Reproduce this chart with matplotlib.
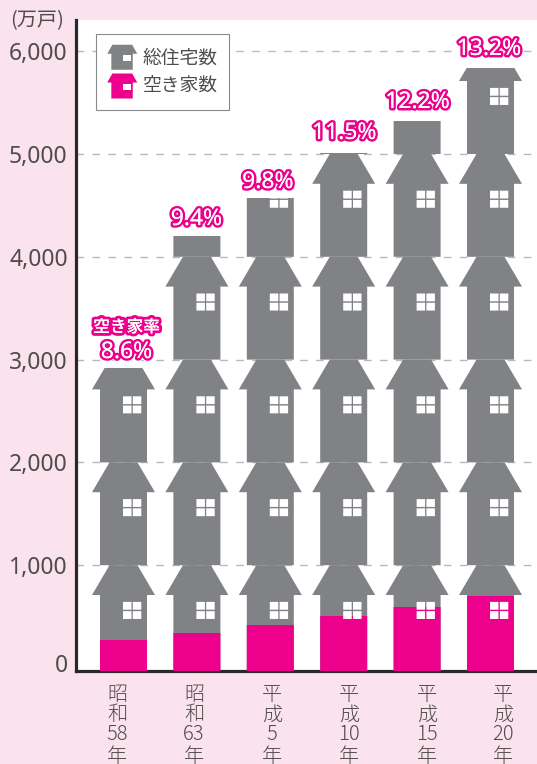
import matplotlib
matplotlib.use("Agg")
import matplotlib.pyplot as plt
import matplotlib.patheffects as pe
from matplotlib.patches import Polygon, Rectangle
from matplotlib.legend_handler import HandlerBase
from matplotlib.transforms import ScaledTranslation

# ---- data ----
years = ["昭和58年", "昭和63年", "平成5年", "平成10年", "平成15年", "平成20年"]
year_lines = [["昭", "和", "58", "年"], ["昭", "和", "63", "年"], ["平", "成", "5", "年"],
              ["平", "成", "10", "年"], ["平", "成", "15", "年"], ["平", "成", "20", "年"]]
total_houses = [2918, 4202, 4572, 5010, 5321, 5837]
vacant_houses = [272, 340, 418, 506, 593, 700]
vacancy_rate = ["8.6%", "9.4%", "9.8%", "11.5%", "12.2%", "13.2%"]
y_ticks = [0, 1000, 2000, 3000, 4000, 5000, 6000]
y_labels = ["0", "1,000", "2,000", "3,000", "4,000", "5,000", "6,000"]
series_names = ["総住宅数", "空き家数"]

# ---- style ----
GRAY = "#808285"
PINK = "#ec008c"
BG = "#fbe3ee"
TEXT = "#504b4c"
CJK = ["Noto Sans CJK JP", "DejaVu Sans"]
W, H = 537, 764
plt.rcParams["font.family"] = CJK

fig = plt.figure(figsize=(W / 100, H / 100), dpi=100, facecolor=BG)
L, R, T, B = 76, 537, 20, 671
ax = fig.add_axes([L / W, 1 - B / H, (R - L) / W, (B - T) / H])
PX_X = 73.4          # pixels per category
PX_Y = 0.1028        # pixels per unit
X0, Y0 = 123.5, 668
ax.set_xlim((L - X0) / PX_X, (R - X0) / PX_X)
ax.set_ylim((Y0 - B) / PX_Y, (Y0 - T) / PX_Y)
ax.set_facecolor("white")

for s in ("top", "right"):
    ax.spines[s].set_visible(False)
for s in ("left", "bottom"):
    ax.spines[s].set_linewidth(2.3)
    ax.spines[s].set_color("#2b2829")
ax.set_xticks([])
ax.set_yticks(y_ticks, y_labels, fontsize=16.5, color=TEXT, fontfamily=["Noto Sans", "DejaVu Sans"], fontweight="light")
ax.tick_params(axis="y", length=0, pad=6)
zero_lab = ax.get_yticklabels()[0]
zero_lab.set_transform(zero_lab.get_transform() + ScaledTranslation(0, 5 / 100, fig.dpi_scale_trans))
for v in y_ticks[1:]:
    ax.axhline(v, color="#b9b9bb", lw=1.0, dashes=(5.5, 6), zorder=1)

# one storey of the pictogram, in pixels relative to its centre / base
BODY, EAVE, TOPW = 23.5 / PX_X, 31.5 / PX_X, 14 / PX_X
EAVE_Y, TILE = 710, 1000


def house(xc, base, bottom):
    return [(xc - BODY, bottom), (xc + BODY, bottom), (xc + BODY, base + EAVE_Y),
            (xc + EAVE, base + EAVE_Y), (xc + TOPW, base + TILE), (xc - TOPW, base + TILE),
            (xc - EAVE, base + EAVE_Y), (xc - BODY, base + EAVE_Y)]


ymin = ax.get_ylim()[0]
for i, (tot, vac) in enumerate(zip(total_houses, vacant_houses)):
    clip_all = Rectangle((i - 1, ymin), 2, tot - ymin, transform=ax.transData)
    clip_vac = Rectangle((i - 1, ymin), 2, vac - ymin, transform=ax.transData)
    for k in range(0, tot // TILE + 1):
        base = k * TILE
        bottom = ymin if k == 0 else base
        for color, clip, z in ((GRAY, clip_all, 3), (PINK, clip_vac, 4)):
            p = Polygon(house(i, base, bottom), closed=True, fc=color, ec="none", zorder=z)
            ax.add_patch(p)
            p.set_clip_path(clip)
        # window: four panes
        for px, py in ((-0.5, 477), (9.3, 477), (-0.5, 567), (9.3, 567)):
            w = Rectangle((i + px / PX_X, base + py), 8.5 / PX_X, 76, fc="white", ec="none", zorder=5, snap=False)
            ax.add_patch(w)
            w.set_clip_path(clip_all)

# rate labels
offsets = [16, 17, 16, 20, 19, 19]
label_dx = [3, -0.5, -2.5, 0.5, 0.5, -1.5]
halo = [pe.withStroke(linewidth=5.0, foreground="white"),
        pe.withStroke(linewidth=3.6, foreground=PINK),
        pe.Normal()]
for i, (tot, r) in enumerate(zip(total_houses, vacancy_rate)):
    ax.annotate(r, (i, tot), xytext=(label_dx[i] * 0.72, offsets[i] * 0.72), textcoords="offset points",
                ha="center", va="center", fontsize=16.5, fontweight="bold", color="white",
                fontfamily=["Noto Sans", "DejaVu Sans"], path_effects=halo, zorder=7)
ax.annotate("空き家率", (0, total_houses[0]), xytext=(3 * 0.72, 41 * 0.72), textcoords="offset points",
            ha="center", va="center", fontsize=12, color="white", fontweight="medium",
            path_effects=[pe.withStroke(linewidth=4.2, foreground=PINK), pe.Normal()], zorder=7)


# legend with house icons
class HouseHandler(HandlerBase):
    def create_artists(self, legend, orig, xd, yd, width, height, fontsize, trans):
        c = orig.get_facecolor()
        w, h = width, height
        def P(fx, fy):
            return (-xd + fx * w, -yd + fy * h)
        poly = Polygon([P(.136, 0), P(.85, 0), P(.85, .64), P(1, .64), P(.83, 1), P(.17, 1), P(0, .64), P(.136, .64)],
                       closed=True, fc=c, ec="none", transform=trans)
        win = Rectangle(P(.51, .36), .27 * w, .24 * h, fc="white", ec="none", transform=trans)
        return [poly, win]


handles = [Rectangle((0, 0), 1, 1, fc=GRAY), Rectangle((0, 0), 1, 1, fc=PINK)]
FS = 13.5
leg = ax.legend(handles, series_names, handler_map={Rectangle: HouseHandler()},
                loc="upper left", bbox_to_anchor=((96 - L) / (R - L), 1 - (33.5 - T) / (B - T)),
                borderaxespad=0, frameon=True, fancybox=False, framealpha=1, edgecolor="#8a8a8c",
                fontsize=FS, labelcolor=TEXT, handlelength=1.6, handleheight=1.675,
                handletextpad=0.3, labelspacing=0.2, borderpad=0.6)
leg.get_frame().set_linewidth(0.8)
leg.set_zorder(8)

# unit title and stacked category labels
fig.text(37.5 / W, 1 - 21 / H, "(万戸)", ha="center", va="center", fontsize=14.5, color=TEXT)
label_x = [117, 194, 272, 349, 427, 503]
line_y = [694, 715, 735, 756]
for lx, lines in zip(label_x, year_lines):
    for ly, s in zip(line_y, lines):
        fig.text(lx / W, 1 - ly / H, s, ha="center", va="center", fontsize=14.5, color=TEXT,
                 fontfamily=CJK, fontweight="light")

fig.savefig("out.png", dpi=100, facecolor=BG)
